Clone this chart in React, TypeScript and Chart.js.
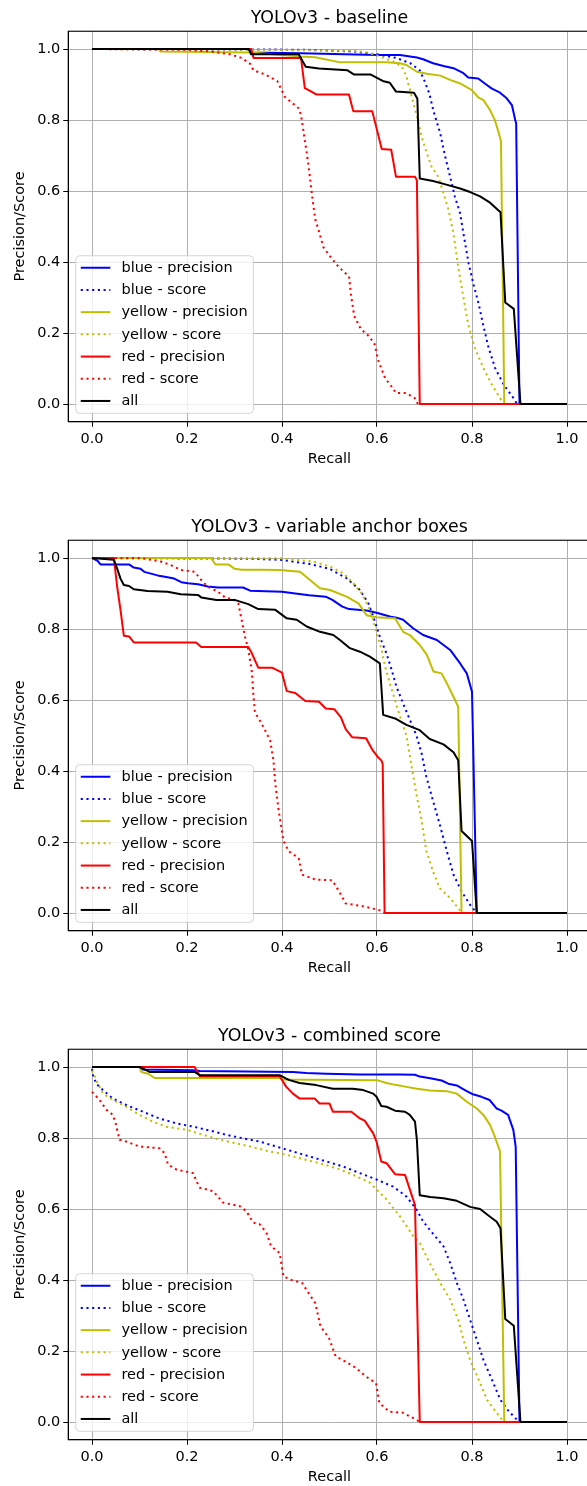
import React, { useEffect, useRef } from 'react';
import { Chart, registerables } from 'chart.js';

Chart.register(...registerables);

type Pt = [number, number];

const FONT = "'DejaVu Sans', 'Liberation Sans', sans-serif";

// ---------- labels ----------
const PANEL_TITLES = ['YOLOv3 - baseline', 'YOLOv3 - variable anchor boxes', 'YOLOv3 - combined score'];
const X_LABEL = 'Recall';
const Y_LABEL = 'Precision/Score';
const TICK_VALUES = [0, 0.2, 0.4, 0.6, 0.8, 1.0];
const SERIES_LABELS = ['blue - precision', 'blue - score', 'yellow - precision', 'yellow - score', 'red - precision', 'red - score', 'all'];
const SERIES_COLORS = ['#0000ff', '#0000ff', '#bfbf00', '#bfbf00', '#ff0000', '#ff0000', '#000000'];
const SERIES_DOTTED = [false, true, false, true, false, true, false];

// ---------- panel 1: baseline ----------
const baseBlueP: Pt[] = [[0, 1], [0.33, 1], [0.335, 0.99], [0.44, 0.988], [0.6, 0.983], [0.648, 0.983], [0.684, 0.976], [0.697, 0.971], [0.718, 0.96], [0.74, 0.952], [0.761, 0.946], [0.782, 0.932], [0.792, 0.92], [0.813, 0.917], [0.827, 0.903], [0.841, 0.889], [0.859, 0.877], [0.873, 0.861], [0.884, 0.842], [0.891, 0.8], [0.893, 0.79], [0.9, 0], [1, 0]];
const baseBlueS: Pt[] = [[0, 1], [0.45, 0.998], [0.55, 0.993], [0.6, 0.985], [0.64, 0.975], [0.67, 0.96], [0.69, 0.94], [0.7, 0.91], [0.71, 0.875], [0.72, 0.82], [0.733, 0.763], [0.743, 0.7], [0.754, 0.64], [0.764, 0.584], [0.775, 0.537], [0.782, 0.48], [0.793, 0.395], [0.803, 0.338], [0.814, 0.282], [0.824, 0.22], [0.835, 0.158], [0.849, 0.1], [0.867, 0.054], [0.885, 0.021], [0.895, 0]];
const baseYellowP: Pt[] = [[0, 1], [0.14, 1], [0.145, 0.993], [0.333, 0.99], [0.44, 0.979], [0.47, 0.977], [0.52, 0.963], [0.62, 0.963], [0.648, 0.96], [0.662, 0.955], [0.684, 0.936], [0.705, 0.93], [0.733, 0.925], [0.754, 0.913], [0.775, 0.903], [0.799, 0.885], [0.813, 0.864], [0.824, 0.856], [0.838, 0.828], [0.848, 0.8], [0.855, 0.77], [0.861, 0.74], [0.868, 0], [1, 0]];
const baseYellowS: Pt[] = [[0, 1], [0.33, 0.998], [0.55, 0.995], [0.58, 0.99], [0.6, 0.982], [0.62, 0.972], [0.64, 0.962], [0.655, 0.945], [0.662, 0.922], [0.673, 0.866], [0.684, 0.81], [0.694, 0.753], [0.705, 0.706], [0.715, 0.668], [0.729, 0.64], [0.74, 0.593], [0.75, 0.55], [0.761, 0.48], [0.771, 0.386], [0.782, 0.3], [0.792, 0.224], [0.806, 0.158], [0.824, 0.101], [0.842, 0.054], [0.859, 0.017], [0.866, 0]];
const baseRedP: Pt[] = [[0, 1], [0.335, 1], [0.34, 0.975], [0.44, 0.975], [0.448, 0.89], [0.455, 0.885], [0.472, 0.872], [0.541, 0.872], [0.55, 0.825], [0.59, 0.825], [0.61, 0.718], [0.63, 0.716], [0.64, 0.64], [0.68, 0.64], [0.684, 0.63], [0.69, 0], [1, 0]];
const baseRedS: Pt[] = [[0, 1], [0.2, 0.998], [0.25, 0.993], [0.29, 0.985], [0.315, 0.975], [0.333, 0.958], [0.34, 0.94], [0.365, 0.928], [0.39, 0.91], [0.406, 0.865], [0.435, 0.833], [0.44, 0.814], [0.449, 0.735], [0.456, 0.67], [0.463, 0.59], [0.47, 0.52], [0.477, 0.49], [0.487, 0.442], [0.5, 0.418], [0.514, 0.394], [0.53, 0.372], [0.541, 0.36], [0.545, 0.31], [0.552, 0.248], [0.566, 0.211], [0.584, 0.19], [0.595, 0.168], [0.603, 0.121], [0.617, 0.073], [0.63, 0.05], [0.64, 0.031], [0.661, 0.031], [0.679, 0.017], [0.686, 0]];
const baseAll: Pt[] = [[0, 1], [0.33, 1], [0.335, 0.985], [0.435, 0.985], [0.45, 0.95], [0.478, 0.945], [0.538, 0.94], [0.552, 0.928], [0.587, 0.928], [0.612, 0.91], [0.627, 0.905], [0.64, 0.88], [0.678, 0.877], [0.685, 0.86], [0.69, 0.635], [0.718, 0.628], [0.746, 0.618], [0.775, 0.607], [0.796, 0.597], [0.817, 0.585], [0.838, 0.567], [0.86, 0.54], [0.87, 0.286], [0.888, 0.268], [0.902, 0], [1, 0]];

// ---------- panel 2: variable anchor boxes ----------
const varBlueP: Pt[] = [[0, 1], [0.011, 0.993], [0.018, 0.982], [0.078, 0.982], [0.088, 0.973], [0.102, 0.97], [0.11, 0.961], [0.124, 0.956], [0.138, 0.951], [0.159, 0.946], [0.173, 0.942], [0.188, 0.932], [0.202, 0.929], [0.223, 0.926], [0.244, 0.92], [0.265, 0.917], [0.318, 0.917], [0.333, 0.908], [0.4, 0.905], [0.428, 0.9], [0.457, 0.895], [0.492, 0.891], [0.506, 0.882], [0.527, 0.863], [0.541, 0.856], [0.578, 0.852], [0.599, 0.846], [0.627, 0.835], [0.641, 0.832], [0.655, 0.826], [0.676, 0.802], [0.697, 0.783], [0.726, 0.769], [0.754, 0.741], [0.775, 0.703], [0.789, 0.675], [0.8, 0.623], [0.81, 0], [1, 0]];
const varBlueS: Pt[] = [[0, 1], [0.33, 0.998], [0.396, 0.995], [0.459, 0.983], [0.501, 0.969], [0.536, 0.943], [0.564, 0.91], [0.582, 0.872], [0.592, 0.835], [0.606, 0.778], [0.62, 0.731], [0.631, 0.684], [0.641, 0.637], [0.655, 0.59], [0.669, 0.545], [0.683, 0.5], [0.694, 0.449], [0.704, 0.383], [0.718, 0.316], [0.732, 0.25], [0.747, 0.174], [0.761, 0.108], [0.778, 0.061], [0.796, 0.023], [0.81, 0]];
const varYellowP: Pt[] = [[0, 1], [0.25, 1], [0.26, 0.982], [0.287, 0.982], [0.3, 0.97], [0.315, 0.967], [0.357, 0.967], [0.396, 0.966], [0.438, 0.961], [0.459, 0.938], [0.48, 0.915], [0.501, 0.91], [0.536, 0.891], [0.561, 0.872], [0.578, 0.839], [0.599, 0.833], [0.638, 0.83], [0.655, 0.792], [0.669, 0.783], [0.69, 0.755], [0.705, 0.727], [0.719, 0.68], [0.736, 0.675], [0.747, 0.647], [0.761, 0.609], [0.771, 0.581], [0.778, 0], [1, 0]];
const varYellowS: Pt[] = [[0, 1], [0.396, 0.999], [0.466, 0.99], [0.501, 0.976], [0.529, 0.957], [0.55, 0.929], [0.568, 0.9], [0.582, 0.863], [0.592, 0.825], [0.599, 0.788], [0.61, 0.741], [0.617, 0.694], [0.627, 0.647], [0.638, 0.6], [0.648, 0.555], [0.662, 0.5], [0.672, 0.42], [0.683, 0.335], [0.694, 0.259], [0.704, 0.174], [0.718, 0.117], [0.732, 0.07], [0.754, 0.042], [0.771, 0.014], [0.778, 0]];
const varRedP: Pt[] = [[0, 1], [0.046, 1], [0.053, 0.919], [0.06, 0.854], [0.067, 0.781], [0.078, 0.779], [0.088, 0.762], [0.219, 0.762], [0.23, 0.749], [0.329, 0.749], [0.336, 0.733], [0.35, 0.691], [0.379, 0.691], [0.4, 0.677], [0.41, 0.625], [0.428, 0.62], [0.449, 0.597], [0.478, 0.595], [0.492, 0.576], [0.51, 0.574], [0.524, 0.551], [0.534, 0.518], [0.548, 0.495], [0.577, 0.492], [0.591, 0.458], [0.602, 0.439], [0.609, 0.43], [0.612, 0.42], [0.616, 0], [1, 0]];
const varRedS: Pt[] = [[0, 1], [0.103, 1], [0.124, 0.995], [0.145, 0.99], [0.166, 0.98], [0.187, 0.966], [0.216, 0.961], [0.23, 0.938], [0.244, 0.919], [0.265, 0.905], [0.28, 0.889], [0.3, 0.882], [0.308, 0.872], [0.315, 0.826], [0.322, 0.779], [0.329, 0.742], [0.336, 0.686], [0.34, 0.611], [0.343, 0.565], [0.357, 0.534], [0.375, 0.486], [0.382, 0.43], [0.386, 0.363], [0.393, 0.288], [0.403, 0.203], [0.414, 0.174], [0.435, 0.155], [0.442, 0.108], [0.471, 0.094], [0.506, 0.092], [0.52, 0.061], [0.534, 0.027], [0.57, 0.019], [0.605, 0.008], [0.616, 0]];
const varAll: Pt[] = [[0, 1], [0.046, 0.995], [0.053, 0.97], [0.06, 0.942], [0.067, 0.924], [0.078, 0.921], [0.088, 0.912], [0.117, 0.907], [0.159, 0.905], [0.187, 0.898], [0.223, 0.896], [0.23, 0.889], [0.262, 0.882], [0.3, 0.882], [0.329, 0.87], [0.35, 0.856], [0.386, 0.854], [0.41, 0.83], [0.431, 0.826], [0.452, 0.807], [0.48, 0.792], [0.508, 0.783], [0.522, 0.769], [0.543, 0.746], [0.564, 0.736], [0.585, 0.722], [0.606, 0.703], [0.613, 0.558], [0.638, 0.548], [0.662, 0.53], [0.69, 0.515], [0.711, 0.49], [0.74, 0.475], [0.761, 0.453], [0.771, 0.43], [0.778, 0.231], [0.8, 0.203], [0.81, 0], [1, 0]];

// ---------- panel 3: combined score ----------
const combBlueP: Pt[] = [[0, 1], [0.1, 1], [0.107, 0.993], [0.213, 0.991], [0.227, 0.989], [0.423, 0.986], [0.451, 0.983], [0.493, 0.981], [0.564, 0.979], [0.648, 0.979], [0.68, 0.978], [0.69, 0.973], [0.712, 0.968], [0.736, 0.962], [0.75, 0.953], [0.768, 0.948], [0.785, 0.935], [0.8, 0.924], [0.82, 0.916], [0.837, 0.907], [0.852, 0.883], [0.862, 0.877], [0.876, 0.865], [0.887, 0.823], [0.892, 0.775], [0.9, 0], [1, 0]];
const combBlueS: Pt[] = [[0, 0.995], [0.002, 0.977], [0.009, 0.953], [0.023, 0.935], [0.044, 0.911], [0.072, 0.893], [0.107, 0.874], [0.142, 0.855], [0.178, 0.841], [0.213, 0.832], [0.248, 0.821], [0.283, 0.809], [0.318, 0.799], [0.353, 0.79], [0.388, 0.776], [0.423, 0.762], [0.458, 0.748], [0.493, 0.734], [0.528, 0.72], [0.564, 0.701], [0.599, 0.683], [0.634, 0.663], [0.662, 0.635], [0.684, 0.597], [0.697, 0.565], [0.718, 0.53], [0.74, 0.495], [0.754, 0.448], [0.768, 0.392], [0.782, 0.345], [0.796, 0.288], [0.81, 0.232], [0.824, 0.175], [0.842, 0.119], [0.86, 0.062], [0.878, 0.029], [0.895, 0.006], [0.9, 0]];
const combYellowP: Pt[] = [[0, 1], [0.1, 1], [0.104, 0.986], [0.118, 0.981], [0.132, 0.969], [0.395, 0.969], [0.402, 0.965], [0.6, 0.963], [0.62, 0.955], [0.641, 0.949], [0.662, 0.944], [0.684, 0.939], [0.712, 0.934], [0.747, 0.932], [0.768, 0.925], [0.789, 0.902], [0.81, 0.883], [0.824, 0.865], [0.838, 0.837], [0.848, 0.804], [0.859, 0.762], [0.868, 0], [1, 0]];
const combYellowS: Pt[] = [[0, 0.99], [0.009, 0.963], [0.023, 0.925], [0.044, 0.907], [0.072, 0.888], [0.1, 0.865], [0.128, 0.846], [0.156, 0.832], [0.199, 0.823], [0.234, 0.809], [0.269, 0.795], [0.304, 0.785], [0.339, 0.774], [0.374, 0.762], [0.409, 0.753], [0.437, 0.743], [0.479, 0.729], [0.514, 0.715], [0.549, 0.697], [0.585, 0.674], [0.599, 0.655], [0.62, 0.627], [0.648, 0.58], [0.676, 0.524], [0.69, 0.505], [0.711, 0.448], [0.733, 0.392], [0.754, 0.345], [0.771, 0.288], [0.782, 0.232], [0.796, 0.175], [0.814, 0.119], [0.832, 0.062], [0.853, 0.024], [0.867, 0]];
const combRedP: Pt[] = [[0, 1], [0.216, 1], [0.227, 0.974], [0.395, 0.974], [0.409, 0.944], [0.423, 0.925], [0.437, 0.911], [0.469, 0.911], [0.479, 0.897], [0.5, 0.897], [0.507, 0.874], [0.546, 0.874], [0.564, 0.855], [0.574, 0.849], [0.592, 0.813], [0.599, 0.79], [0.609, 0.734], [0.62, 0.729], [0.638, 0.698], [0.659, 0.696], [0.68, 0.611], [0.69, 0], [1, 0]];
const combRedS: Pt[] = [[0, 0.93], [0.016, 0.907], [0.03, 0.88], [0.044, 0.865], [0.05, 0.84], [0.058, 0.795], [0.072, 0.79], [0.1, 0.776], [0.142, 0.771], [0.153, 0.757], [0.16, 0.725], [0.178, 0.711], [0.213, 0.701], [0.22, 0.678], [0.227, 0.66], [0.255, 0.65], [0.276, 0.618], [0.311, 0.608], [0.325, 0.594], [0.339, 0.562], [0.353, 0.557], [0.367, 0.534], [0.377, 0.495], [0.395, 0.476], [0.403, 0.41], [0.42, 0.4], [0.442, 0.392], [0.456, 0.363], [0.47, 0.335], [0.481, 0.27], [0.499, 0.236], [0.513, 0.185], [0.534, 0.17], [0.556, 0.152], [0.577, 0.128], [0.598, 0.109], [0.605, 0.053], [0.626, 0.029], [0.655, 0.026], [0.683, 0.006], [0.69, 0]];
const combAll: Pt[] = [[0, 1], [0.1, 1], [0.111, 0.993], [0.121, 0.986], [0.216, 0.986], [0.227, 0.977], [0.395, 0.977], [0.409, 0.967], [0.416, 0.963], [0.437, 0.955], [0.472, 0.949], [0.507, 0.939], [0.549, 0.939], [0.571, 0.935], [0.592, 0.925], [0.599, 0.916], [0.609, 0.89], [0.62, 0.888], [0.638, 0.877], [0.659, 0.874], [0.669, 0.865], [0.68, 0.846], [0.684, 0.794], [0.69, 0.639], [0.712, 0.634], [0.74, 0.63], [0.768, 0.623], [0.796, 0.606], [0.817, 0.6], [0.838, 0.578], [0.852, 0.564], [0.86, 0.546], [0.87, 0.29], [0.888, 0.271], [0.902, 0], [1, 0]];

const PANEL_SERIES: Pt[][][] = [
  [baseBlueP, baseBlueS, baseYellowP, baseYellowS, baseRedP, baseRedS, baseAll],
  [varBlueP, varBlueS, varYellowP, varYellowS, varRedP, varRedS, varAll],
  [combBlueP, combBlueS, combYellowP, combYellowS, combRedP, combRedS, combAll],
];

const PANEL_H = 509;
const CANVAS_W = 600;
const BASE_FS = 14.5;
const TITLE_FS = 17.4;

function Panel({ title, series, top }: { title: string; series: Pt[][]; top: number }) {
  const ref = useRef<HTMLCanvasElement | null>(null);
  useEffect(() => {
    const canvas = ref.current;
    if (!canvas) return;

    const titlePlugin = {
      id: 'panelTitle',
      afterDraw(chart: any) {
        const { ctx, chartArea: a } = chart;
        ctx.save();
        ctx.font = `${TITLE_FS}px ${FONT}`;
        ctx.fillStyle = '#000';
        ctx.textAlign = 'center';
        ctx.textBaseline = 'alphabetic';
        ctx.fillText(title, (a.left + a.right) / 2, 23.3);
        ctx.restore();
      },
    };

    const framePlugin = {
      id: 'frameAndLegend',
      afterDatasetsDraw(chart: any) {
        const { ctx, chartArea: a } = chart;
        ctx.save();
        ctx.strokeStyle = '#000';
        ctx.lineWidth = 1.1;
        ctx.strokeRect(a.left, a.top, a.right - a.left, a.bottom - a.top);

        // legend box
        const fs = BASE_FS;
        ctx.font = `${fs}px ${FONT}`;
        const labels: string[] = chart.data.datasets.map((d: any) => d.label);
        const maxW = Math.max(...labels.map((l) => ctx.measureText(l).width));
        const w = 45.7 + maxW + 0.4 * fs;
        const rowH = 22.2;
        const h = 157.6;
        const x0 = a.left + 7.5;
        const y0 = a.bottom - 8.4 - h;
        const r = 4;
        ctx.beginPath();
        ctx.moveTo(x0 + r, y0);
        ctx.lineTo(x0 + w - r, y0);
        ctx.quadraticCurveTo(x0 + w, y0, x0 + w, y0 + r);
        ctx.lineTo(x0 + w, y0 + h - r);
        ctx.quadraticCurveTo(x0 + w, y0 + h, x0 + w - r, y0 + h);
        ctx.lineTo(x0 + r, y0 + h);
        ctx.quadraticCurveTo(x0, y0 + h, x0, y0 + h - r);
        ctx.lineTo(x0, y0 + r);
        ctx.quadraticCurveTo(x0, y0, x0 + r, y0);
        ctx.closePath();
        ctx.fillStyle = 'rgba(255,255,255,0.8)';
        ctx.fill();
        ctx.strokeStyle = 'rgba(204,204,204,0.8)';
        ctx.lineWidth = 1;
        ctx.stroke();

        labels.forEach((lab, i) => {
          const ds = chart.data.datasets[i];
          const cy = y0 + 12 + i * rowH;
          ctx.beginPath();
          ctx.strokeStyle = ds.borderColor;
          ctx.lineWidth = 2;
          ctx.lineCap = 'butt';
          ctx.setLineDash(ds.borderDash || []);
          ctx.moveTo(x0 + 5, cy);
          ctx.lineTo(x0 + 34.6, cy);
          ctx.stroke();
          ctx.setLineDash([]);
          ctx.fillStyle = '#000';
          ctx.textAlign = 'left';
          ctx.textBaseline = 'middle';
          ctx.fillText(lab, x0 + 45.7, cy + 0.5);
        });
        ctx.restore();
      },
    };

    const tickFont = { family: FONT, size: BASE_FS };
    const chart = new Chart(canvas, {
      type: 'line',
      data: {
        datasets: series.map((pts, i) => ({
          label: SERIES_LABELS[i],
          data: pts.map(([x, y]) => ({ x, y })),
          borderColor: SERIES_COLORS[i],
          backgroundColor: SERIES_COLORS[i],
          borderWidth: 2,
          borderDash: SERIES_DOTTED[i] ? [2.1, 3.6] : [],
          borderCapStyle: 'butt',
          borderJoinStyle: 'round',
          pointRadius: 0,
          pointHoverRadius: 0,
          tension: 0,
          fill: false,
          order: 6 - i,
        })),
      },
      options: {
        animation: false,
        responsive: false,
        maintainAspectRatio: false,
        devicePixelRatio: 1,
        events: [],
        layout: { padding: { top: 31.25, right: 9.25, left: 0, bottom: 0 } },
        plugins: {
          legend: { display: false },
          tooltip: { enabled: false },
          title: { display: false },
        },
        scales: {
          x: {
            type: 'linear',
            min: -0.05,
            max: 1.05,
            afterBuildTicks: (s: any) => {
              s.ticks = TICK_VALUES.map((v) => ({ value: v }));
            },
            afterFit: (s: any) => {
              s.height = PANEL_H - 421.75;
            },
            ticks: {
              autoSkip: false,
              maxRotation: 0,
              minRotation: 0,
              padding: 4,
              color: '#000',
              font: tickFont,
              callback: (v: any) => Number(v).toFixed(1),
            },
            grid: { color: '#b0b0b0', lineWidth: 1, tickColor: '#000', tickLength: 5, tickWidth: 1 },
            border: { display: true, color: '#000', width: 1 },
            title: {
              display: true,
              text: X_LABEL,
              color: '#000',
              font: tickFont,
              padding: { top: 0, bottom: 41.3 },
            },
          },
          y: {
            type: 'linear',
            min: -0.05,
            max: 1.05,
            afterBuildTicks: (s: any) => {
              s.ticks = TICK_VALUES.map((v) => ({ value: v }));
            },
            afterFit: (s: any) => {
              s.width = 68.25;
            },
            ticks: {
              autoSkip: false,
              padding: 3,
              color: '#000',
              font: tickFont,
              callback: (v: any) => Number(v).toFixed(1),
            },
            grid: { color: '#b0b0b0', lineWidth: 1, tickColor: '#000', tickLength: 5, tickWidth: 1 },
            border: { display: true, color: '#000', width: 1 },
            title: {
              display: true,
              text: Y_LABEL,
              color: '#000',
              font: tickFont,
              padding: { top: 11.8, bottom: 0 },
            },
          },
        },
      } as any,
      plugins: [titlePlugin, framePlugin],
    });
    return () => chart.destroy();
  }, [title, series]);

  return (
    <canvas
      ref={ref}
      width={CANVAS_W}
      height={PANEL_H}
      style={{ position: 'absolute', left: 0, top, width: CANVAS_W, height: PANEL_H, display: 'block' }}
    />
  );
}

export default function App() {
  return (
    <div
      style={{
        position: 'absolute',
        left: 0,
        top: 0,
        width: 587,
        height: 1486,
        overflow: 'hidden',
        background: '#ffffff',
      }}
    >
      {PANEL_TITLES.map((t, i) => (
        <Panel key={i} title={t} series={PANEL_SERIES[i]} top={i * PANEL_H} />
      ))}
    </div>
  );
}
